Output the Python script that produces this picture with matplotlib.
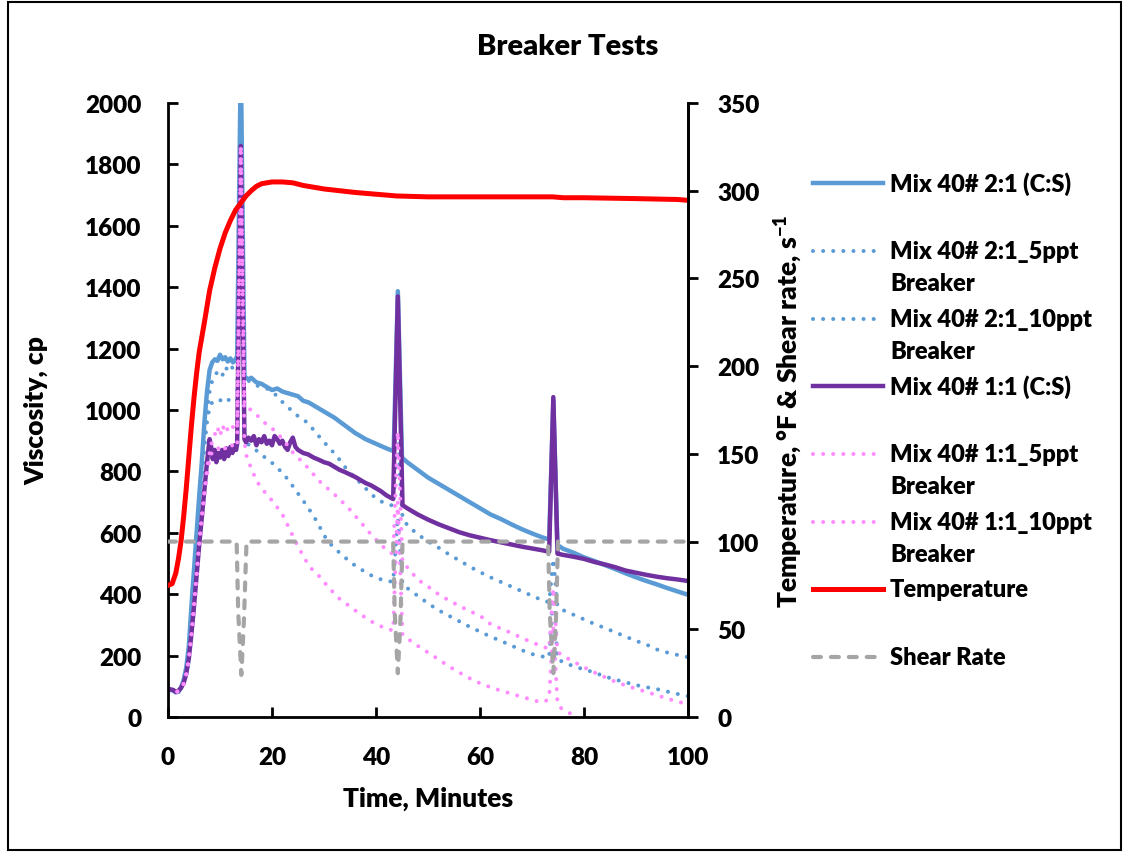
import matplotlib
matplotlib.use('Agg')
import matplotlib.pyplot as plt
import numpy as np
from matplotlib.lines import Line2D
from matplotlib.patches import Rectangle

# ======================= Data (time in minutes) ===================================
mix21_cs = [(0, 90), (1, 86), (1.5, 80), (2, 82), (2.5, 95), (3, 120), (3.5, 160), (4, 230),
            (4.5, 360), (5, 480), (5.5, 600), (6, 720), (6.5, 830), (7, 960), (7.5, 1060),
            (8, 1130), (8.5, 1155), (9, 1165), (9.5, 1160), (10, 1180), (10.5, 1165), (11, 1172),
            (11.5, 1158), (12, 1168), (12.5, 1155), (13, 1165), (13.3, 1175), (14.0, 2150),
            (14.7, 1110), (15, 1105), (15.5, 1100), (16, 1105), (17, 1090), (18, 1085), (19, 1075),
            (20, 1065), (21, 1070), (22, 1060), (23, 1055), (24, 1050), (25, 1045), (26, 1030),
            (27, 1025), (28, 1015), (29, 1005), (30, 995), (32, 975), (34, 950), (36, 925),
            (38, 905), (40, 890), (42, 875), (43.4, 866), (44.2, 1387), (45.0, 845), (46, 830),
            (48, 805), (50, 780), (52, 760), (54, 740), (56, 720), (58, 700), (60, 680), (62, 660),
            (64, 645), (66, 628), (68, 612), (70, 598), (72, 585), (73.3, 578), (74.1, 1030),
            (74.9, 560), (76, 548), (78, 535), (80, 520), (82, 508), (84, 495), (86, 482),
            (88, 468), (90, 455), (92, 443), (94, 432), (96, 420), (98, 409), (100, 398)]

mix21_5ppt = [(0, 90), (1, 86), (2, 82), (2.5, 92), (3, 110), (3.5, 150), (4, 220), (4.5, 330),
              (5, 450), (5.5, 570), (6, 690), (6.5, 800), (7, 900), (7.5, 990), (8, 1060),
              (8.5, 1095), (9, 1110), (9.5, 1125), (10, 1130), (10.5, 1115), (11, 1140),
              (11.5, 1130), (12, 1145), (12.5, 1135), (13, 1150), (13.3, 1150), (14, 1880),
              (14.7, 1120), (15, 1100), (16, 1090), (17, 1080), (18, 1075), (19, 1070), (20, 1060),
              (21, 1045), (22, 1026), (23, 1010), (24, 995), (25, 980), (26, 970), (27, 955),
              (28, 935), (29, 915), (30, 895), (31, 878), (32, 858), (33, 838), (34, 815),
              (35, 795), (36, 780), (37, 762), (38, 745), (39, 728), (40, 712), (41, 702),
              (42, 695), (43.3, 688), (44.2, 900), (45.1, 650), (46, 625), (48, 595), (50, 572),
              (52, 552), (54, 530), (56, 510), (58, 490), (60, 472), (62, 455), (64, 440),
              (66, 425), (68, 410), (70, 395), (72, 380), (73.3, 374), (74.1, 515), (74.9, 360),
              (76, 348), (78, 333), (80, 318), (82, 303), (84, 290), (86, 276), (88, 262),
              (90, 248), (92, 236), (94, 220), (96, 210), (98, 202), (100, 195)]

mix21_10ppt = [(0, 90), (1, 86), (2, 82), (2.5, 90), (3, 105), (3.5, 140), (4, 200), (4.5, 300),
               (5, 420), (5.5, 540), (6, 660), (6.5, 780), (7, 880), (7.5, 960), (8, 1010),
               (8.5, 1025), (9, 1030), (9.5, 1028), (10, 1033), (10.5, 1025), (11, 1030),
               (11.5, 1035), (12, 1028), (12.5, 1032), (13, 1030), (13.3, 1030), (14, 1880),
               (14.7, 930), (15, 895), (16, 880), (17, 868), (18, 855), (19, 840), (20, 828),
               (21, 812), (22, 795), (23, 775), (24, 752), (25, 728), (26, 705), (27, 680),
               (28, 655), (29, 625), (30, 592), (31, 568), (32, 550), (33, 535), (34, 520),
               (35, 506), (36, 493), (37, 482), (38, 472), (39, 462), (40, 454), (41, 448),
               (42, 444), (43.3, 440), (44.2, 650), (45.1, 432), (46, 420), (48, 395), (50, 370),
               (52, 348), (54, 330), (56, 312), (58, 294), (60, 278), (62, 262), (64, 248),
               (66, 233), (68, 218), (70, 205), (72, 197), (73.3, 194), (74.1, 420), (74.9, 188),
               (76, 179), (78, 165), (80, 155), (82, 145), (84, 132), (86, 122), (88, 113),
               (90, 104), (92, 97), (94, 91), (96, 83), (98, 75), (100, 68)]

mix11_cs = [(0, 92), (1, 88), (1.5, 82), (2, 85), (2.5, 95), (3, 110), (3.5, 140), (4, 190),
            (4.5, 270), (5, 360), (5.5, 460), (6, 560), (6.5, 650), (7, 740), (7.5, 830),
            (8, 905), (8.3, 880), (8.6, 840), (9, 870), (9.3, 830), (9.6, 860), (10, 845),
            (10.4, 870), (10.8, 840), (11.2, 875), (11.6, 850), (12, 880), (12.4, 860),
            (12.8, 885), (13.1, 870), (13.3, 890), (14.0, 1860), (14.7, 905), (15, 895),
            (15.5, 910), (16, 900), (16.5, 915), (17, 885), (17.5, 905), (18, 895), (18.5, 915),
            (19, 890), (19.5, 900), (20, 885), (20.5, 915), (21, 905), (21.5, 890), (22, 900),
            (22.5, 880), (23, 870), (23.5, 895), (24, 910), (24.5, 880), (25, 870), (26, 860),
            (27, 855), (28, 845), (29, 838), (30, 830), (31, 825), (32, 815), (33, 805),
            (34, 798), (35, 790), (36, 782), (37, 772), (38, 762), (39, 755), (40, 745),
            (41, 735), (42, 722), (43.3, 710), (44.2, 1370), (45.1, 690), (46, 680), (48, 660),
            (50, 643), (52, 628), (54, 615), (56, 602), (58, 592), (60, 584), (62, 576),
            (64, 569), (66, 562), (68, 555), (70, 549), (72, 543), (73.3, 538), (74.1, 1042),
            (74.9, 532), (76, 528), (78, 522), (80, 515), (82, 505), (84, 497), (86, 488),
            (88, 477), (90, 470), (92, 463), (94, 457), (96, 452), (98, 448), (100, 443)]

mix11_5ppt = [(0, 90), (1, 86), (1.5, 80), (2, 84), (2.5, 92), (3, 108), (3.5, 140), (4, 190),
              (4.5, 270), (5, 370), (5.5, 470), (6, 570), (6.5, 660), (7, 740), (7.5, 810),
              (8, 860), (8.5, 900), (9, 920), (9.5, 945), (10, 915), (10.5, 950), (11, 925),
              (11.5, 940), (12, 930), (12.5, 945), (13, 935), (13.3, 935), (14, 1860),
              (14.7, 1020), (15, 1010), (16, 1000), (17, 985), (18, 968), (19, 952), (20, 940),
              (21, 925), (22, 905), (23, 885), (24, 862), (25, 845), (26, 828), (27, 810),
              (28, 790), (29, 770), (30, 755), (31, 740), (32, 725), (33, 710), (34, 692),
              (35, 675), (36, 655), (37, 636), (38, 615), (39, 596), (40, 578), (41, 560),
              (42, 545), (43.3, 530), (44.2, 930), (45.1, 500), (46, 488), (48, 448), (50, 425),
              (52, 400), (54, 380), (56, 362), (58, 345), (60, 330), (62, 303), (64, 288),
              (66, 274), (68, 258), (70, 243), (72, 230), (73.3, 222), (74.1, 420), (74.9, 212),
              (76, 199), (78, 180), (80, 162), (82, 145), (84, 130), (86, 115), (88, 103),
              (90, 92), (92, 82), (94, 71), (96, 60), (98, 50), (100, 42)]

mix11_10ppt = [(0, 92), (1, 88), (1.5, 82), (2, 84), (2.5, 92), (3, 105), (3.5, 135), (4, 185),
               (4.5, 260), (5, 355), (5.5, 455), (6, 555), (6.5, 640), (7, 720), (7.5, 790),
               (8, 840), (8.5, 865), (9, 870), (9.5, 878), (10, 870), (10.5, 882), (11, 875),
               (11.5, 885), (12, 878), (12.5, 888), (13, 880), (13.3, 885), (14, 1860),
               (14.7, 900), (15, 855), (16, 810), (17, 770), (18, 745), (19, 725), (20, 705),
               (21, 683), (22, 660), (23, 625), (24, 590), (25, 555), (26, 525), (27, 495),
               (28, 475), (29, 460), (30, 440), (31, 420), (32, 402), (33, 385), (34, 372),
               (35, 360), (36, 347), (37, 335), (38, 323), (39, 312), (40, 303), (41, 295),
               (42, 287), (43.3, 282), (44.2, 700), (45.1, 268), (46, 256), (48, 232), (50, 210),
               (52, 188), (54, 165), (56, 145), (58, 126), (60, 110), (62, 97), (64, 86),
               (66, 76), (68, 66), (70, 56), (71.5, 49), (72.5, 50), (73.3, 62), (74.1, 300),
               (74.9, 45), (75.5, 30), (76.5, 18), (77.3, 12)]

temperature = [(0, 75), (0.8, 76), (1.5, 82), (2, 90), (2.5, 100), (3, 114), (3.5, 130),
               (4, 148), (4.5, 166), (5, 182), (5.5, 196), (6, 208), (7, 225), (8, 243),
               (9, 256), (10, 267), (11, 276), (12, 283), (13, 289), (14, 293), (15, 297),
               (16, 300), (17, 302.5), (18, 304), (20, 305), (22, 305), (24, 304.5), (26, 303),
               (28, 302), (30, 301), (33, 300), (36, 299), (40, 298), (44, 297), (50, 296.5),
               (60, 296.5), (70, 296.5), (74, 296.5), (76, 296), (80, 296), (90, 295.5),
               (98, 295), (100, 294.5)]

shear_rate = [(0, 100), (13.2, 100), (13.5, 60), (14.1, 24), (14.6, 55), (15.1, 100),
              (43.3, 100), (43.6, 60), (44.2, 25), (44.7, 55), (45.1, 100),
              (73.1, 100), (73.4, 60), (74.1, 25), (74.6, 55), (75, 100), (100, 100)]

visc_ticks = np.arange(0, 2001, 200)
temp_ticks = np.arange(0, 351, 50)
time_ticks = np.arange(0, 101, 20)

# ======================= Style ====================================================
plt.rcParams['font.family'] = ['Lato', 'DejaVu Sans']
plt.rcParams['font.weight'] = 'heavy'
plt.rcParams['mathtext.fontset'] = 'custom'
plt.rcParams['mathtext.rm'] = 'Lato:heavy'
plt.rcParams['mathtext.it'] = 'Lato:heavy'
plt.rcParams['mathtext.bf'] = 'Lato:heavy'
BOLD = 'heavy'

blue = '#5B9BD5'
purple = '#7030A0'
pink = '#FF8CFF'
red = '#FF0000'
grey = '#A5A5A5'

solid = dict(ls='-', lw=3.2)
dotted = dict(ls=(0, (0.01, 2.5)), lw=2.9, dash_capstyle='round')
dashed = dict(ls=(0, (1.9, 2.4)), lw=3, dash_capstyle='round')

W, H = 1125, 854
fig = plt.figure(figsize=(W / 100, H / 100), dpi=100)
ax = fig.add_axes([168 / W, 1 - 718 / H, 520 / W, 614 / H])
ax2 = ax.twinx()

series = [
    (mix21_cs, blue, solid, 'Mix 40# 2:1 (C:S)'),
    (mix21_5ppt, blue, dotted, 'Mix 40# 2:1_5ppt\nBreaker'),
    (mix21_10ppt, blue, dotted, 'Mix 40# 2:1_10ppt\nBreaker'),
    (mix11_cs, purple, solid, 'Mix 40# 1:1 (C:S)'),
    (mix11_5ppt, pink, dotted, 'Mix 40# 1:1_5ppt\nBreaker'),
    (mix11_10ppt, pink, dotted, 'Mix 40# 1:1_10ppt\nBreaker'),
]
for pts, c, st, lab in series:
    t, v = np.array(pts).T
    ax.plot(t, v, color=c, **st)

t, v = np.array(temperature).T
ax2.plot(t, v, color=red, ls='-', lw=3.6)
t, v = np.array(shear_rate).T
ax2.plot(t, v, color=grey, **dashed)

ax.set_xlim(0, 100)
ax.set_ylim(0, 2000)
ax2.set_ylim(0, 350)
ax.set_xticks(time_ticks)
ax.set_yticks(visc_ticks)
ax2.set_yticks(temp_ticks)

for a in (ax, ax2):
    a.spines['top'].set_visible(False)
    for s in a.spines.values():
        s.set_linewidth(2)
ax2.spines['left'].set_visible(False)
ax2.spines['bottom'].set_visible(False)

ax.tick_params(axis='y', direction='in', length=7, width=2, pad=19, labelsize=17.5)
ax.tick_params(axis='x', direction='in', length=7, width=2, pad=21, labelsize=17.5)
ax2.tick_params(axis='y', direction='out', length=7, width=2, pad=14, labelsize=17.5)

ax.set_xlabel('Time, Minutes', fontsize=19, fontweight=BOLD)
ax.set_ylabel('Viscosity, cp', fontsize=19, fontweight=BOLD)
ax2.set_ylabel('Temperature, °F & Shear rate, s$^{-1}$', fontsize=19, fontweight=BOLD)
ax.xaxis.set_label_coords(0.5, -0.112)
ax.yaxis.set_label_coords(-0.231, 0.5)
ax2.yaxis.set_label_coords(1.163, 0.5)

fig.text(568 / W, 1 - 47 / H, 'Breaker Tests', ha='center', va='center',
         fontsize=21, fontweight=BOLD)

# legend, drawn by hand so the handle sits on the first text line
legend_rows = [184, 252, 320, 387, 455, 523, 590, 658]
legend_items = [(c, st, lab) for _, c, st, lab in series]
legend_items += [(red, dict(ls='-', lw=3.6), 'Temperature'),
                 (grey, dashed, 'Shear Rate')]
for y, (c, st, lab) in zip(legend_rows, legend_items):
    fig.add_artist(Line2D([813 / W, 883 / W], [1 - y / H, 1 - y / H],
                          transform=fig.transFigure, color=c, **st))
    for k, line in enumerate(lab.split('\n')):
        fig.text(890 / W, 1 - (y + 32 * k) / H, line, ha='left', va='center',
                 fontsize=17, fontweight=BOLD)

fig.add_artist(Rectangle((8 / W, 3 / H), 1113 / W, 848 / H, transform=fig.transFigure,
                         fill=False, ec='black', lw=1.5))

fig.savefig('out.png', dpi=100)
